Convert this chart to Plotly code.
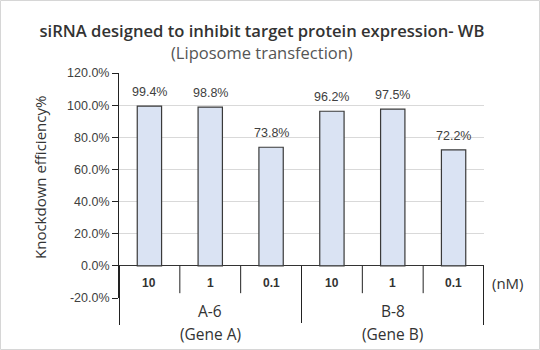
import plotly.graph_objects as go

# ---- data ----
groups = ["A-6", "B-8"]
genes = ["(Gene A)", "(Gene B)"]
concs = ["10", "1", "0.1"]
values_a = [99.4, 98.8, 73.8]
values_b = [96.2, 97.5, 72.2]
y_ticks = [-20, 0, 20, 40, 60, 80, 100, 120]
y_tick_text = [f"{v:.1f}%" for v in y_ticks]

values = values_a + values_b
labels = concs + concs
xs = list(range(len(values)))
n_per = len(concs)

W, H = 540, 350
ML, MR, MT, MB = 119, 56, 73, 52
PW, PH = W - ML - MR, H - MT - MB
BOT = H - MB


def py(px):
    """paper y for a pixel row"""
    return (BOT - px) / PH


fig = go.Figure()
fig.add_trace(go.Bar(
    x=xs, y=values, width=0.4,
    marker=dict(color="#dae3f3", line=dict(color="#3a3a3a", width=1.2)),
    hoverinfo="skip", showlegend=False,
))

ann = []
# value labels
for x, v in zip(xs, values):
    ann.append(dict(x=x, y=v, xref="x", yref="y", text=f"{v:.1f}%", showarrow=False,
                    xanchor="center", yanchor="bottom", yshift=5,
                    font=dict(size=12.5, color="#404040", family="Liberation Sans, Arial")))
# concentration labels
for x, t in zip(xs, labels):
    ann.append(dict(x=x, y=-10.6, xref="x", yref="y", text=f"<b>{t}</b>", showarrow=False,
                    xanchor="center", yanchor="middle",
                    font=dict(size=12, color="#333333", family="Liberation Sans, Arial")))
# group labels
for gi, (g, gn) in enumerate(zip(groups, genes)):
    cx = gi * n_per + (n_per - 1) / 2
    ann.append(dict(x=cx, y=py(311), xref="x", yref="paper", text=g, showarrow=False,
                    xanchor="center", yanchor="middle",
                    font=dict(size=15.5, color="#333333", family="Open Sans")))
    ann.append(dict(x=cx, y=py(334), xref="x", yref="paper", text=gn, showarrow=False,
                    xanchor="center", yanchor="middle",
                    font=dict(size=15.5, color="#333333", family="Open Sans")))
# (nM)
ann.append(dict(x=1, y=-10.6, xref="paper", yref="y", text="(nM)", showarrow=False,
                xanchor="center", yanchor="middle", xshift=24,
                font=dict(size=15, color="#333333", family="Open Sans")))
# subtitle
ann.append(dict(x=(262 - ML) / PW, y=py(52), xref="paper", yref="paper",
                text="(Liposome transfection)", showarrow=False,
                xanchor="center", yanchor="middle",
                font=dict(size=16.5, color="#555555", family="Open Sans")))
# y axis title
ann.append(dict(x=(40 - ML) / PW, y=py(178), xref="paper", yref="paper",
                text="Knockdown efficiency%", textangle=-90, showarrow=False,
                xanchor="center", yanchor="middle",
                font=dict(size=15, color="#333333", family="Open Sans")))

shapes = []
n = len(values)
for b in range(1, n):
    bx = b - 0.5
    if b % n_per == 0:
        shapes.append(dict(type="line", xref="x", yref="y", x0=bx, x1=bx, y0=0, y1=-20,
                           line=dict(color="#222222", width=1)))
        shapes.append(dict(type="line", xref="x", yref="paper", x0=bx, x1=bx, y0=0,
                           y1=py(323), line=dict(color="#222222", width=1)))
    else:
        shapes.append(dict(type="line", xref="x", yref="y", x0=bx, x1=bx, y0=0, y1=-17,
                           line=dict(color="#222222", width=1)))
for bx in (-0.5, n - 0.5):
    shapes.append(dict(type="line", xref="x", yref="y", x0=bx, x1=bx, y0=0, y1=-20,
                       line=dict(color="#222222", width=2)))
    shapes.append(dict(type="line", xref="x", yref="paper", x0=bx, x1=bx, y0=0,
                       y1=py(325), line=dict(color="#222222", width=2)))
# outer light border
shapes.append(dict(type="rect", xref="paper", yref="paper",
                   x0=-(ML - 0.5) / PW, x1=(PW + MR - 0.5) / PW,
                   y0=py(H - 0.5), y1=py(0.5),
                   line=dict(color="#d6d6d6", width=1), layer="below"))

fig.update_layout(
    width=W, height=H,
    margin=dict(l=ML, r=MR, t=MT, b=MB),
    paper_bgcolor="white", plot_bgcolor="white",
    title=dict(text="siRNA designed to inhibit target protein expression- WB",
               x=262 / W, xanchor="center", y=1 - 31 / H, yanchor="middle",
               font=dict(size=16.6, color="#333333", family="Open Sans", weight=600)),
    xaxis=dict(range=[-0.5, n - 0.5], showticklabels=False, showgrid=False, zeroline=False,
               showline=False, ticks=""),
    yaxis=dict(range=[-20, 120], tickvals=y_ticks, ticktext=y_tick_text,
               showgrid=True, gridcolor="#d9d9d9", gridwidth=1,
               zeroline=True, zerolinecolor="#333333", zerolinewidth=1.3,
               showline=True, linecolor="#222222", linewidth=1,
               ticks="outside", ticklen=6, tickcolor="#222222",
               tickfont=dict(size=12.5, color="#404040", family="Liberation Sans, Arial")),
    annotations=ann, shapes=shapes, bargap=0.6,
)

fig.write_html("out.html")
